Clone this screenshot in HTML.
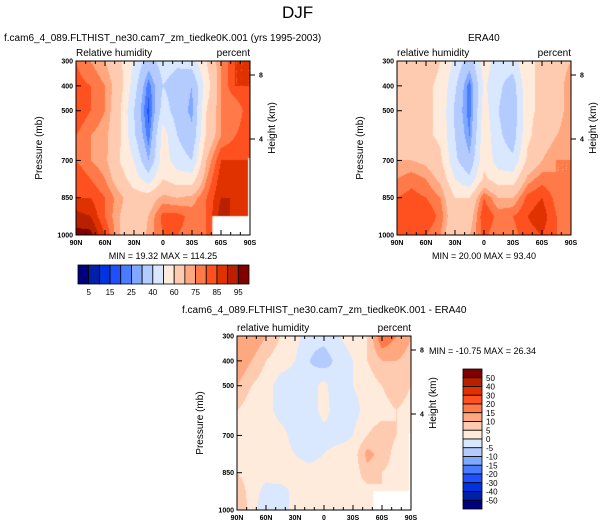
<!DOCTYPE html>
<html><head><meta charset="utf-8">
<style>
body{margin:0;background:#fff;width:604px;height:530px;overflow:hidden;position:relative;font-family:"Liberation Sans",sans-serif;}
.t{position:absolute;white-space:nowrap;color:#000;}
canvas{position:absolute;}
svg{position:absolute;left:0;top:0;}
</style></head>
<body>
<div class="t" style="left:282px;top:3px;font-size:17px;">DJF</div>
<div class="t" style="left:4px;top:33px;font-size:10px;">f.cam6_4_089.FLTHIST_ne30.cam7_zm_tiedke0K.001 (yrs 1995-2003)</div>
<div class="t" style="left:468px;top:33px;font-size:10px;">ERA40</div>
<div class="t" style="left:182px;top:305px;font-size:10px;">f.cam6_4_089.FLTHIST_ne30.cam7_zm_tiedke0K.001 - ERA40</div>

<canvas id="c1" width="174" height="174" style="left:76px;top:61px"></canvas>
<canvas id="c2" width="174" height="174" style="left:397px;top:61px"></canvas>
<canvas id="c3" width="174" height="174" style="left:237px;top:336px"></canvas>
<svg id="ov" width="604" height="530"></svg>

<script>
const lats=[90,75,60,45,30,15,0,-15,-30,-45,-60,-75,-90];
const levs=[300,400,500,600,700,775,850,925,1000];
const modelRH=[
[80,75,70,62,50,35,45,42,45,60,75,85,85],
[82,80,75,65,45,22,40,35,30,55,75,85,85],
[85,80,75,62,40,18,45,35,28,60,75,75,85],
[80,75,72,62,42,22,55,40,32,62,75,80,85],
[80,75,72,60,50,30,55,45,40,70,85,85,85],
[85,80,75,65,55,45,60,55,55,75,88,88,85],
[85,85,80,72,65,65,72,70,72,80,90,90,85],
[92,90,80,70,65,70,82,82,78,80,93,88,85],
[97,97,85,70,60,72,80,80,78,80,88,88,85]];
const eraRH=[
[70,65,65,60,48,35,55,45,45,60,60,65,70],
[70,65,62,58,42,22,52,42,35,58,62,65,75],
[68,65,62,58,38,22,55,40,33,58,62,65,75],
[70,65,62,58,40,25,57,42,35,58,65,70,75],
[70,70,68,62,42,32,58,45,42,62,70,75,75],
[75,78,75,68,50,42,62,55,55,72,78,75,75],
[80,82,80,75,60,60,80,70,70,82,85,78,75],
[80,85,85,78,62,65,85,78,80,85,88,80,75],
[80,83,80,75,60,70,82,75,78,83,85,80,75]];
const diffRH=[
[15,15,10,5,2,-3,-3,0,2,5,20,15,10],
[15,10,5,2,0,-5,-8,-3,0,5,10,10,8],
[10,5,2,-2,-2,-3,2,-5,0,2,5,8,5],
[5,2,2,-2,-3,-3,2,-3,-2,2,3,5,3],
[2,2,3,2,-2,-3,-2,-2,0,5,8,5,2],
[3,2,3,2,0,-2,0,2,2,12,8,3,2],
[5,3,2,5,2,2,3,3,2,8,5,3,0],
[8,3,-2,-3,2,2,5,2,3,3,5,3,2],
[10,3,-5,-3,2,3,5,2,2,3,3,2,2]];
const missingLat=-51, missingP=924, stripLat=-88, stripP=690;
const rhLevels=[5,10,15,20,25,30,40,50,60,70,75,80,85,90,95];
const rhLabels=["5","15","25","40","60","75","85","95"];
const diffLevels=[-50,-40,-30,-20,-15,-10,-5,0,5,10,15,20,30,40,50];
const diffLabels=["50","40","30","20","15","10","5","0","-5","-10","-15","-20","-30","-40","-50"];
const latTicks=["90N","60N","30N","0","30S","60S","90S"];
const presTicks=[300,400,500,700,850,1000];
const colors=["#00007f","#0020a8","#0033e0","#1f4fff","#4a7cff","#80a8ff","#b3cbff","#d9e8ff","#ffebdc","#ffcbb0","#ffa880","#ff7a48","#ff5020","#e03200","#b82000","#800000"];

const W=174,H=174;
const xs=lat=>(90-lat)/180*W;
const ys=p=>(p-300)/700*H;
function interp(g,lat,p){
  let i=0;while(i<lats.length-2&&lat<lats[i+1])i++;
  let j=0;while(j<levs.length-2&&p>levs[j+1])j++;
  const tx=(lats[i]-lat)/(lats[i]-lats[i+1]),ty=(p-levs[j])/(levs[j+1]-levs[j]);
  const a=g[j][i],b=g[j][i+1],c=g[j+1][i],d=g[j+1][i+1];
  return a*(1-tx)*(1-ty)+b*tx*(1-ty)+c*(1-tx)*ty+d*tx*ty;
}
function lvl(v,L){let k=0;while(k<L.length&&v>=L[k])k++;return k;}
function draw(id,g,L,miss){
  const ctx=document.getElementById(id).getContext('2d');
  for(let y=0;y<H;y++)for(let x=0;x<W;x++){
    const lat=90-(x+0.5)/W*180,p=300+(y+0.5)/H*700;
    ctx.fillStyle=colors[lvl(interp(g,lat,p),L)];
    ctx.fillRect(x,y,1,1);
  }
  if(miss){ctx.fillStyle="#fff";ctx.fillRect(xs(missingLat),ys(missingP),W,H);
    ctx.fillRect(xs(stripLat),ys(stripP),W,H);}
}
draw('c1',modelRH,rhLevels,true);
draw('c2',eraRH,rhLevels,false);
draw('c3',diffRH,diffLevels,true);

const ov=document.getElementById('ov');const NS="http://www.w3.org/2000/svg";
function el(t,a,txt){const e=document.createElementNS(NS,t);for(const k in a)e.setAttribute(k,a[k]);if(txt!==undefined)e.textContent=txt;ov.appendChild(e);return e;}
function axes(ox,oy,t1,t2,mm,mmx,mmy,mmAnchor){
  let e=el('rect',{x:ox,y:oy,width:W,height:H,fill:'none',stroke:'#000','stroke-width':1});
  
  for(let lat=90;lat>=-90;lat-=10){
    const x=ox+xs(lat),maj=lat%30===0,l=maj?5:3;
    el('line',{x1:x,y1:oy+H,x2:x,y2:oy+H-l,stroke:'#000'});
    el('line',{x1:x,y1:oy,x2:x,y2:oy+l,stroke:'#000'});
  }
  latTicks.forEach((s,i)=>{
    e=el('text',{x:ox+i*W/6,y:oy+H+10,'font-size':7,'text-anchor':'middle','font-weight':'bold'},s);
    
  });
  presTicks.forEach(p=>{
    const y=oy+ys(p);
    el('line',{x1:ox,y1:y,x2:ox+5,y2:y,stroke:'#000'});
    e=el('text',{x:ox-3,y:y+2.5,'font-size':7,'text-anchor':'end','font-weight':'bold'},p);
    
  });
  [[8,14],[4,78]].forEach(([h,dy])=>{
    el('line',{x1:ox+W,y1:oy+dy,x2:ox+W+5,y2:oy+dy,stroke:'#000'});
    e=el('text',{x:ox+W+9,y:oy+dy+2.5,'font-size':7,'font-weight':'bold'},h);
    
  });
  e=el('text',{x:ox,y:oy-5,'font-size':10},t1);
  e=el('text',{x:ox+W,y:oy-5,'font-size':10,'text-anchor':'end'},'percent');
  e=el('text',{x:ox-34,y:oy+H/2,'font-size':10,'text-anchor':'middle',transform:`rotate(-90 ${ox-34} ${oy+H/2})`},'Pressure (mb)');
  
  e=el('text',{x:ox+W+25,y:oy+H/2-20,'font-size':10,'text-anchor':'middle',transform:`rotate(-90 ${ox+W+25} ${oy+H/2-20})`},'Height (km)');
  
  e=el('text',{x:mmx,y:mmy,'font-size':9,'text-anchor':mmAnchor},mm);
  
}
axes(76,61,'Relative humidity','percent','MIN =  19.32  MAX = 114.25',163,259,'middle');
axes(397,61,'relative humidity','percent','MIN =  20.00  MAX =  93.40',484,259,'middle');
axes(237,336,'relative humidity','percent','MIN = -10.75  MAX =  26.34',429,354,'start');

const bw=171/16;
colors.forEach((c,i)=>{
  const r=el('rect',{x:78+i*bw,y:265,width:bw,height:19,fill:c,stroke:'#000','stroke-width':0.8});
  
});
rhLabels.forEach((s,i)=>{
  const t=el('text',{x:78+(2*i+1)*bw,y:295,'font-size':8,'text-anchor':'middle'},s);
  
});
const bh=140/16;
colors.slice().reverse().forEach((c,i)=>{
  const r=el('rect',{x:463,y:369+i*bh,width:19,height:bh,fill:c,stroke:'#000','stroke-width':0.8});
  
});
diffLabels.forEach((s,i)=>{
  const t=el('text',{x:486,y:369+(i+1)*bh+3,'font-size':8},s);
  
});
</script>
</body></html>
